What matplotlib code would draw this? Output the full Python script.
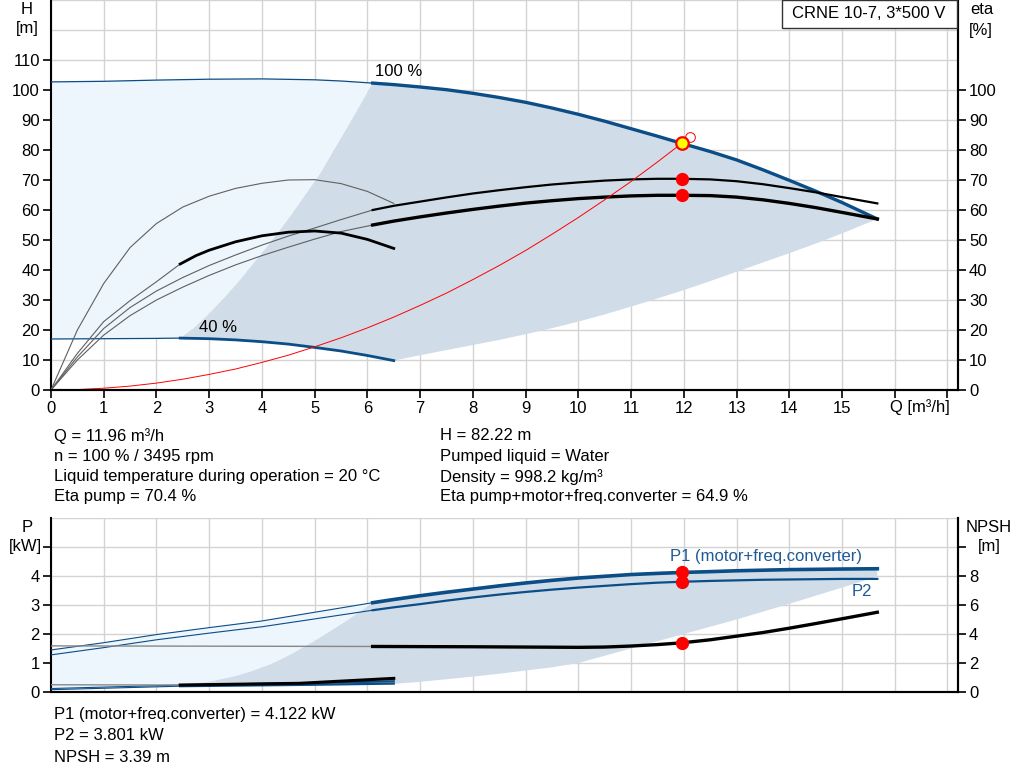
import matplotlib
matplotlib.use("Agg")
import matplotlib.pyplot as plt
from matplotlib.patches import Rectangle

plt.rcParams['font.family'] = ['Liberation Sans', 'DejaVu Sans']

W, H = 1024, 781

# ---- pump curve data ----
# head at 100 % speed
q_h100_thin = [0, 1, 2, 3, 4, 5, 5.5, 6.1]
h_h100_thin = [102.7, 102.9, 103.3, 103.6, 103.7, 103.4, 103.0, 102.3]
q_h100 = [6.1, 6.5, 7, 7.5, 8, 8.5, 9, 9.5, 10, 10.5, 11, 11.5, 11.96,
          12.5, 13, 13.5, 14, 14.5, 15, 15.67]
h_h100 = [102.3, 101.8, 101.0, 100.1, 98.9, 97.5, 95.9, 94.0, 91.9, 89.6, 87.1,
          84.6, 82.22, 79.5, 76.7, 73.4, 69.9, 66.3, 62.5, 57.0]

# head at 40 % speed
q_h40_thin = [0, 1, 2, 2.45]
h_h40_thin = [17.0, 17.1, 17.2, 17.3]
q_h40 = [2.45, 3, 3.5, 4, 4.5, 5, 5.5, 6, 6.5]
h_h40 = [17.3, 17.1, 16.7, 16.1, 15.3, 14.2, 13.0, 11.5, 9.8]

# boundaries of the operating area
q_area_left = [2.45, 2.7, 3, 3.3, 3.6, 3.9, 4.2, 4.5, 4.8, 5.1, 5.4, 5.7, 6.1]
h_area_left = [17.3, 20.5, 25.5, 31, 37, 43.5, 50, 57, 64.5, 72, 81, 90, 102.3]
q_area_low = [6.5, 7, 7.5, 8, 8.5, 9, 9.5, 10, 10.5, 11, 11.5, 12, 12.5, 13,
              13.5, 14, 14.5, 15, 15.67]
h_area_low = [9.8, 11.6, 13.3, 15.0, 16.7, 18.6, 20.6, 22.8, 25.2, 27.8, 30.5,
              33.3, 36.3, 39.4, 42.5, 45.6, 48.8, 52.2, 57.0]

# efficiency curves [%]
q_eta_pump_thin = [0, 0.5, 1, 1.5, 2, 2.5, 3, 3.5, 4, 4.5, 5, 5.5, 6.1]
eta_pump_thin = [0, 11, 20.5, 27.5, 33, 37.5, 41.5, 45, 48.3, 51.3, 54, 56.8, 60]
q_eta_pump = [6.1, 6.5, 7, 7.5, 8, 8.5, 9, 9.5, 10, 10.5, 11, 11.5, 11.96,
              12.5, 13, 13.5, 14, 14.5, 15, 15.67]
eta_pump = [60, 61.4, 62.8, 64.2, 65.5, 66.6, 67.6, 68.5, 69.2, 69.8, 70.2, 70.4,
            70.4, 70.2, 69.6, 68.6, 67.3, 65.9, 64.3, 62.2]

q_eta_tot_thin = [0, 0.5, 1, 1.5, 2, 2.5, 3, 3.5, 4, 4.5, 5, 5.5, 6.1]
eta_tot_thin = [0, 10, 18.3, 24.8, 30, 34.3, 38.2, 41.7, 44.8, 47.6, 50.3, 52.8, 55]
q_eta_tot = [6.1, 6.5, 7, 7.5, 8, 8.5, 9, 9.5, 10, 10.5, 11, 11.5, 11.96,
             12.5, 13, 13.5, 14, 14.5, 15, 15.67]
eta_tot = [55, 56.3, 57.7, 59.0, 60.2, 61.3, 62.3, 63.1, 63.8, 64.3, 64.7, 64.9,
           64.9, 64.8, 64.3, 63.4, 62.2, 60.8, 59.2, 57.0]

q_eta_pump40 = [0, 0.5, 1, 1.5, 2, 2.5, 3, 3.5, 4, 4.5, 5, 5.5, 6, 6.5]
eta_pump40 = [0, 20, 35.5, 47.5, 55.5, 61, 64.6, 67.2, 68.9, 70.0, 70.1, 68.8,
              66.2, 62.2]
q_eta_tot40_thin = [0, 0.5, 1, 1.5, 2, 2.45]
eta_tot40_thin = [0, 12.2, 22.8, 29.8, 36.1, 42]
q_eta_tot40 = [2.45, 2.75, 3, 3.5, 4, 4.5, 5, 5.5, 6, 6.5]
eta_tot40 = [42, 44.8, 46.6, 49.4, 51.4, 52.6, 53.0, 52.3, 50.2, 47.2]

# system curve
q_sys = [0, 0.5, 1, 1.5, 2, 2.5, 3, 3.5, 4, 4.5, 5, 5.5, 6, 6.5, 7, 7.5, 8, 8.5,
         9, 9.5, 10, 10.5, 11, 11.5, 11.96]
h_sys = [0, 0.14, 0.6, 1.3, 2.3, 3.6, 5.2, 7.0, 9.2, 11.6, 14.4, 17.4, 20.7,
         24.3, 28.2, 32.3, 36.8, 41.5, 46.5, 51.9, 57.5, 63.4, 69.5, 76.0, 82.22]

# duty point
q_duty = 11.96
h_duty = 82.22
eta_pump_duty = 70.4
eta_tot_duty = 64.9
q_req, h_req = 12.11, 84.2

# power [kW]
q_p1_thin = [0, 1, 2, 3, 4, 5, 6.1]
p1_thin = [1.45, 1.7, 1.98, 2.22, 2.45, 2.75, 3.08]
q_p1 = [6.1, 6.5, 7, 7.5, 8, 8.5, 9, 9.5, 10, 10.5, 11, 11.5, 11.96, 12.5, 13,
        13.5, 14, 14.5, 15, 15.67]
p1 = [3.08, 3.19, 3.32, 3.44, 3.55, 3.66, 3.76, 3.85, 3.93, 3.99, 4.05, 4.09,
      4.122, 4.15, 4.18, 4.2, 4.22, 4.23, 4.24, 4.25]
q_p2_thin = [0, 1, 2, 3, 4, 5, 6.1]
p2_thin = [1.28, 1.53, 1.8, 2.03, 2.25, 2.52, 2.82]
q_p2 = [6.1, 6.5, 7, 7.5, 8, 8.5, 9, 9.5, 10, 10.5, 11, 11.5, 11.96, 12.5, 13,
        13.5, 14, 14.5, 15, 15.67]
p2 = [2.82, 2.92, 3.03, 3.15, 3.26, 3.36, 3.45, 3.53, 3.6, 3.66, 3.72, 3.77,
      3.801, 3.83, 3.85, 3.87, 3.88, 3.89, 3.9, 3.9]

q_p1_40_thin = [0, 2.45]
p1_40_thin = [0.12, 0.24]
q_p1_40 = [2.45, 4, 5, 6.5]
p1_40 = [0.24, 0.28, 0.31, 0.37]
q_p2_40_thin = [0, 2.45]
p2_40_thin = [0.08, 0.2]
q_p2_40 = [2.45, 4, 5, 6.5]
p2_40 = [0.2, 0.23, 0.25, 0.29]

q_parea_left = [2.45, 3, 3.5, 3.78, 4.2, 4.6, 4.98, 5.3, 5.6, 5.86, 6.1]
p_parea_left = [0.24, 0.35, 0.55, 0.70, 0.98, 1.35, 1.74, 2.1, 2.45, 2.77, 3.08]
q_parea_low = [6.5, 7, 7.5, 8, 8.5, 9, 9.5, 10, 10.5, 11, 11.5, 12, 12.5, 13,
               13.5, 14, 14.5, 15, 15.67]
p_parea_low = [0.28, 0.35, 0.44, 0.53, 0.63, 0.74, 0.85, 1.0, 1.25, 1.5, 1.75,
               2.0, 2.25, 2.5, 2.77, 3.04, 3.32, 3.6, 3.98]

# NPSH [m]
q_npsh_thin = [0, 3, 6.1]
npsh_thin = [3.18, 3.16, 3.14]
q_npsh = [6.1, 7, 8, 9, 10, 10.5, 11, 11.5, 11.96, 12.5, 13, 13.5, 14, 14.5, 15,
          15.67]
npsh = [3.14, 3.13, 3.12, 3.1, 3.08, 3.1, 3.17, 3.27, 3.39, 3.6, 3.85, 4.1, 4.4,
        4.72, 5.05, 5.5]
q_npsh40_thin = [0, 2.45]
npsh40_thin = [0.5, 0.48]
q_npsh40 = [2.45, 4.72, 6.5]
npsh40 = [0.48, 0.6, 0.94]

x_ticks = list(range(0, 18))
h_ticks = list(range(0, 111, 10))
eta_ticks = list(range(0, 101, 10))
p_ticks = [0, 1, 2, 3, 4, 5]
npsh_ticks = [0, 2, 4, 6, 8, 10]

info_left = ["Q = 11.96 m³/h", "n = 100 % / 3495 rpm",
             "Liquid temperature during operation = 20 °C", "Eta pump = 70.4 %"]
info_right = ["H = 82.22 m", "Pumped liquid = Water", "Density = 998.2 kg/m³",
              "Eta pump+motor+freq.converter = 64.9 %"]
info_bottom = ["P1 (motor+freq.converter) = 4.122 kW", "P2 = 3.801 kW", "NPSH = 3.39 m"]

BLUE = "#0b4d86"
DARK_FILL = "#d0dce7"
LIGHT_FILL = "#edf5fd"
GRID = "#d3d3d3"
THIN = "#606060"
FS = 12


def fx(px):
    return px / W


def fy(py):
    return 1 - py / H


def style(ax):
    ax.set_facecolor("none")
    ax.spines['top'].set_visible(False)
    for s in ['left', 'bottom', 'right']:
        ax.spines[s].set_linewidth(1.5)
    ax.tick_params(direction='out', length=6, width=1.2, labelsize=FS, pad=2)


fig = plt.figure(figsize=(W / 100, H / 100), dpi=100)

# ---------------- top chart ----------------
ax1 = fig.add_axes([fx(51), fy(390), fx(958 - 51), 390 / H])
ax1.set_xlim(0, 17.2)
ax1.set_ylim(0, 130)
style(ax1)
ax1.set_xticks(x_ticks)
ax1.set_xticklabels([str(t) if t <= 15 else "" for t in x_ticks])
ax1.set_yticks(h_ticks)
ax1.set_yticks([120, 130], minor=True)
ax1.tick_params(which='minor', length=0)
ax1.grid(True, which='both', color=GRID, lw=1, zorder=0)
ax1.set_axisbelow(True)

light_q = q_h100_thin + q_area_left[::-1] + q_h40_thin[::-1]
light_h = h_h100_thin + h_area_left[::-1] + h_h40_thin[::-1]
ax1.fill(light_q, light_h, color=LIGHT_FILL, lw=0, zorder=1)
dark_q = q_area_left + q_h100 + q_area_low[::-1] + q_h40[::-1]
dark_h = h_area_left + h_h100 + h_area_low[::-1] + h_h40[::-1]
ax1.fill(dark_q, dark_h, color=DARK_FILL, lw=0, zorder=1)

ax1.plot(q_h100_thin, h_h100_thin, color=BLUE, lw=0.9, zorder=3)
ax1.plot(q_h100, h_h100, color=BLUE, lw=2.4, zorder=4)
ax1.plot(q_h40_thin, h_h40_thin, color=BLUE, lw=0.9, zorder=3)
ax1.plot(q_h40, h_h40, color=BLUE, lw=2.0, zorder=4)

ax1.plot(q_eta_pump_thin, eta_pump_thin, color=THIN, lw=0.8, zorder=3)
ax1.plot(q_eta_pump, eta_pump, color="black", lw=1.6, zorder=4)
ax1.plot(q_eta_tot_thin, eta_tot_thin, color=THIN, lw=0.8, zorder=3)
ax1.plot(q_eta_tot, eta_tot, color="black", lw=2.4, zorder=4)
ax1.plot(q_eta_pump40, eta_pump40, color=THIN, lw=0.8, zorder=3)
ax1.plot(q_eta_tot40_thin, eta_tot40_thin, color=THIN, lw=0.8, zorder=3)
ax1.plot(q_eta_tot40, eta_tot40, color="black", lw=2.0, zorder=4)

ax1.plot(q_sys, h_sys, color="red", lw=0.7, zorder=5)
ax1.plot([q_req], [h_req], 'o', ms=7, mfc='none', mec='red', mew=0.7, zorder=6)
ax1.plot([q_duty, q_duty], [eta_pump_duty, eta_tot_duty], 'o', ms=8.5,
         color='red', mec='red', zorder=6)
ax1.plot([q_duty], [h_duty], 'o', ms=9, mfc='yellow', mec='red', mew=1.6, zorder=7)

ax1.text(6.15, 106, "100 %", fontsize=FS, ha='left', va='center', zorder=8)
ax1.text(2.8, 21, "40 %", fontsize=FS, ha='left', va='center', zorder=8)

ax2 = ax1.twinx()
ax2.set_ylim(0, 130)
style(ax2)
ax2.spines['left'].set_visible(False)
ax2.set_yticks(eta_ticks)

fig.text(fx(890), fy(407), "Q [m³/h]", fontsize=FS, ha='left', va='center')
fig.text(fx(27), fy(9), "H", fontsize=FS, ha='center', va='center')
fig.text(fx(27), fy(29), "[m]", fontsize=FS, ha='center', va='center')
fig.text(fx(982), fy(10), "eta", fontsize=FS, ha='center', va='center')
fig.text(fx(981), fy(30), "[%]", fontsize=FS, ha='center', va='center')

fig.patches.append(Rectangle((fx(782), fy(28)), fx(957 - 782), 28 / H,
                             transform=fig.transFigure, fill=True, fc='white',
                             ec='#333333', lw=1, zorder=10))
fig.text(fx(869), fy(14), "CRNE 10-7, 3*500 V", fontsize=FS, ha='center',
         va='center', zorder=11)

for i, s in enumerate(info_left):
    fig.text(fx(54), fy(436 + i * 20.3), s, fontsize=FS, ha='left', va='center')
for i, s in enumerate(info_right):
    fig.text(fx(440), fy(436 + i * 20.3), s, fontsize=FS, ha='left', va='center')

# ---------------- bottom chart ----------------
ax3 = fig.add_axes([fx(51), fy(692), fx(958 - 51), 174 / H])
ax3.set_xlim(0, 17.2)
ax3.set_ylim(0, 6)
style(ax3)
ax3.set_xticks(x_ticks)
ax3.tick_params(axis='x', length=0, labelbottom=False)
ax3.set_yticks(p_ticks)
ax3.set_yticklabels([str(t) if t <= 4 else "" for t in p_ticks])
ax3.set_yticks([6], minor=True)
ax3.tick_params(which='minor', length=0)
ax3.grid(True, which='both', color=GRID, lw=1, zorder=0)
ax3.set_axisbelow(True)

plight_q = q_p1_thin + q_parea_left[::-1] + q_p2_40_thin[::-1]
plight_p = p1_thin + p_parea_left[::-1] + p2_40_thin[::-1]
ax3.fill(plight_q, plight_p, color=LIGHT_FILL, lw=0, zorder=1)
pdark_q = q_parea_left + q_p1 + q_parea_low[::-1] + q_p2_40[::-1]
pdark_p = p_parea_left + p1 + p_parea_low[::-1] + p2_40[::-1]
ax3.fill(pdark_q, pdark_p, color=DARK_FILL, lw=0, zorder=1)

ax3.plot(q_p1_thin, p1_thin, color=BLUE, lw=0.8, zorder=3)
ax3.plot(q_p1, p1, color=BLUE, lw=2.6, zorder=4)
ax3.plot(q_p2_thin, p2_thin, color=BLUE, lw=0.8, zorder=3)
ax3.plot(q_p2, p2, color=BLUE, lw=1.6, zorder=4)
ax3.plot(q_p1_40_thin, p1_40_thin, color=BLUE, lw=0.8, zorder=3)
ax3.plot(q_p1_40, p1_40, color=BLUE, lw=1.6, zorder=4)
ax3.plot(q_p2_40_thin, p2_40_thin, color=BLUE, lw=0.8, zorder=3)
ax3.plot(q_p2_40, p2_40, color=BLUE, lw=1.6, zorder=4)

ax3.text(11.73, 4.66, "P1 (motor+freq.converter)", fontsize=FS, color="#1f5a96",
         ha='left', va='center', zorder=8)
ax3.text(15.18, 3.48, "P2", fontsize=FS, color="#1f5a96", ha='left', va='center',
         zorder=8)

ax4 = ax3.twinx()
ax4.set_ylim(0, 12)
style(ax4)
ax4.spines['left'].set_visible(False)
ax4.set_yticks(npsh_ticks)
ax4.set_yticklabels([str(t) if t <= 8 else "" for t in npsh_ticks])

ax4.plot(q_npsh_thin, npsh_thin, color="#888888", lw=1.0, zorder=3)
ax4.plot(q_npsh, npsh, color="black", lw=2.4, zorder=4)
ax4.plot(q_npsh40_thin, npsh40_thin, color="#888888", lw=1.0, zorder=3)
ax4.plot(q_npsh40, npsh40, color="black", lw=2.2, zorder=4)
ax4.plot([q_duty], [3.39], 'o', ms=8.5, color='red', zorder=6)
ax3.plot([q_duty, q_duty], [4.122, 3.801], 'o', ms=8.5, color='red', zorder=6)

fig.text(fx(27), fy(527), "P", fontsize=FS, ha='center', va='center')
fig.text(fx(25), fy(547), "[kW]", fontsize=FS, ha='center', va='center')
fig.text(fx(989), fy(527), "NPSH", fontsize=FS, ha='center', va='center')
fig.text(fx(989), fy(547), "[m]", fontsize=FS, ha='center', va='center')

for i, s in enumerate(info_bottom):
    fig.text(fx(54), fy(714 + i * 21.5), s, fontsize=FS, ha='left', va='center')

fig.savefig("out.png", dpi=100)
